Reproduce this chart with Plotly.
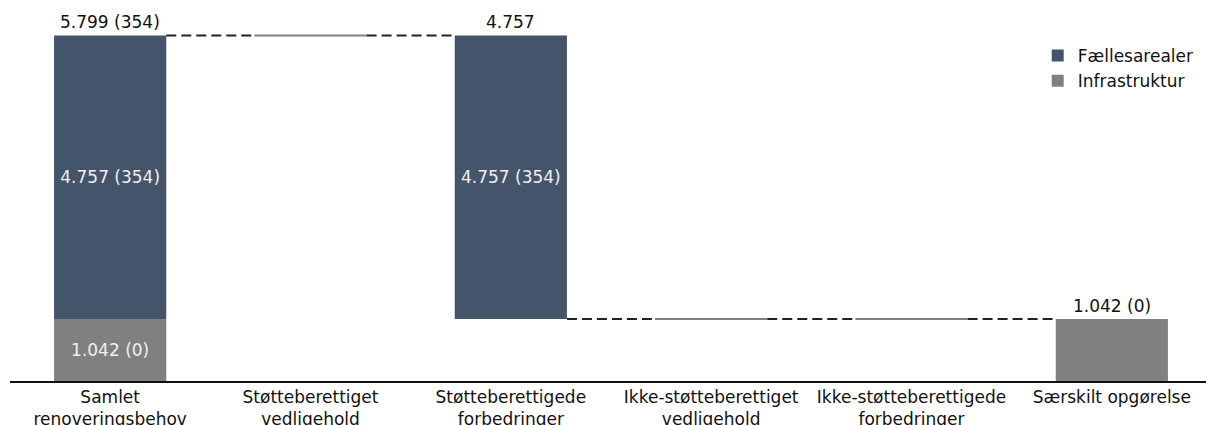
import plotly.graph_objects as go

categories = [
    "Samlet<br>renoveringsbehov",
    "Støtteberettiget<br>vedligehold",
    "Støtteberettigede<br>forbedringer",
    "Ikke-støtteberettiget<br>vedligehold",
    "Ikke-støtteberettigede<br>forbedringer",
    "Særskilt opgørelse",
]
faelles = [4757, 0, 4757, 0, 0, 0]
faelles_count = [354, 0, 354, 0, 0, 0]
infra = [1042, 0, 0, 0, 0, 1042]
infra_count = [0, 0, 0, 0, 0, 0]
top_labels = ["5.799 (354)", "", "4.757", "", "", "1.042 (0)"]
inside_faelles = [True, False, True, False, False, False]
inside_infra = [True, False, False, False, False, False]

NAVY = "#44546A"
GRAY = "#808080"
BW = 0.56
FONT = "DejaVu Sans, Verdana, sans-serif"
FS = 17


def fmt(v):
    return f"{v:,}".replace(",", ".")


n = len(categories)
totals = [f + i for f, i in zip(faelles, infra)]
# waterfall levels: first bar is the total, the rest step down
bottoms, tops = [], []
level = totals[0]
for k in range(n):
    if k == 0:
        bottoms.append(0)
        tops.append(totals[0])
    else:
        tops.append(level)
        level = level - totals[k]
        bottoms.append(level)

infra_base = [bottoms[k] for k in range(n)]
faelles_base = [bottoms[k] + infra[k] for k in range(n)]

x = list(range(n))
faelles_text = [f"{fmt(v)} ({c})" if show else ""
                for v, c, show in zip(faelles, faelles_count, inside_faelles)]
infra_text = [f"{fmt(v)} ({c})" if show else ""
              for v, c, show in zip(infra, infra_count, inside_infra)]

fig = go.Figure()
fig.add_trace(go.Bar(
    x=x, y=faelles, base=faelles_base, name="Fællesarealer",
    marker=dict(color=NAVY, line=dict(width=0)), width=BW,
    text=faelles_text, textposition="inside", insidetextanchor="middle",
    textfont=dict(color="#f0f0f0", size=FS, family=FONT),
    hoverinfo="skip",
))
fig.add_trace(go.Bar(
    x=x, y=infra, base=infra_base, name="Infrastruktur",
    marker=dict(color=GRAY, line=dict(width=0)), width=BW,
    text=infra_text, textposition="inside", insidetextanchor="middle",
    textfont=dict(color="#f0f0f0", size=FS, family=FONT),
    hoverinfo="skip",
))

annotations = []
for k in range(n):
    if top_labels[k]:
        annotations.append(dict(
            x=x[k], y=tops[k], xref="x", yref="y", text=top_labels[k],
            showarrow=False, yanchor="bottom", xanchor="center", yshift=1,
            font=dict(color="#111111", size=FS, family=FONT)))

shapes = []
# zero-height bars drawn as thin gray lines
for k in range(n):
    if totals[k] == 0:
        shapes.append(dict(type="line", xref="x", yref="y",
                           x0=k - BW / 2, x1=k + BW / 2, y0=tops[k], y1=tops[k],
                           line=dict(color=GRAY, width=2)))
# dashed connectors at the running level after each bar
for k in range(n - 1):
    lvl = tops[0] if k == 0 else bottoms[k]
    shapes.append(dict(type="line", xref="x", yref="y",
                       x0=k + BW / 2, x1=k + 1 - BW / 2, y0=lvl, y1=lvl,
                       line=dict(color="#222222", width=2, dash="10px,5px")))

fig.update_layout(
    width=1214, height=425,
    margin=dict(l=2, r=10, t=12, b=52),
    paper_bgcolor="white", plot_bgcolor="white",
    barmode="overlay",
    font=dict(family=FONT, size=FS, color="#111111"),
    shapes=shapes,
    annotations=annotations,
    showlegend=True,
    legend=dict(x=0.855, y=0.95, xanchor="left", yanchor="top",
                font=dict(size=FS, color="#111111"), bgcolor="rgba(0,0,0,0)",
                traceorder="normal"),
    xaxis=dict(tickmode="array", tickvals=x, ticktext=categories,
               range=[-0.5, 5.5], showline=True, linecolor="#111111", linewidth=1.5,
               showgrid=False, zeroline=False, ticks="",
               tickfont=dict(size=FS, color="#111111", family=FONT)),
    yaxis=dict(range=[0, 6059], visible=False, showgrid=False, zeroline=False),
)

fig.write_html("out.html")
